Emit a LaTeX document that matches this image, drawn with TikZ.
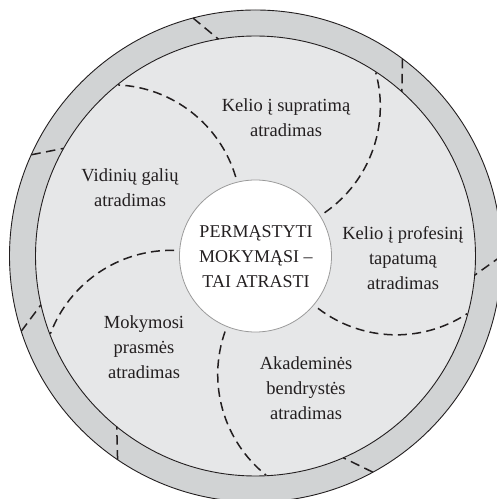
\documentclass[tikz,border=0pt]{standalone}
\usepackage{fontspec}
\setmainfont{Liberation Serif}
\usetikzlibrary{calc}
\definecolor{ringgray}{HTML}{D1D3D4}
\definecolor{fieldgray}{HTML}{E6E7E8}
\definecolor{hubline}{HTML}{9A9A9A}
\definecolor{ink}{HTML}{231F20}
\begin{document}
\begin{tikzpicture}[x=1pt,y=1pt,
  lbl/.style={align=center, font=\fontsize{18.5}{25}\selectfont, text=ink, inner sep=0pt},
  hublbl/.style={align=center, font=\fontsize{18}{25}\selectfont, text=ink, inner sep=0pt},
  curve/.style={line width=1.5pt, dash pattern=on 9pt off 5.3pt, draw=ink},
  ringdash/.style={line width=1.5pt, dash pattern=on 9.5pt off 5.5pt, draw=ink},
  rim/.style={draw=ink, line width=0.9pt}]
\useasboundingbox (0,0) rectangle (497,499);
\clip (0,0) rectangle (497,499);
\coordinate (C) at (255.5,243);
\draw[rim, fill=ringgray] (C) circle[radius=246pt];
\draw[rim, fill=fieldgray] (C) circle[radius=220pt];
% dashed segments crossing the outer ring
\foreach \p [count=\i] in {99.7,48.3,-5,-66.5,230.9,192.8,150.7} {
  \coordinate (ri\i) at ($(C)+(\p:220pt)$);
  \coordinate (ro\i) at ($(C)+(\p+5:246pt)$);
  \draw[ringdash] (ro\i) -- (ri\i);
}
% five dividing arcs
\foreach \k in {0,...,4} {
  \pgfmathsetmacro\a{-72*\k}
  \coordinate (cs\k) at ($(C)+(163.6+\a:149.5pt)+(16.6+\a:129pt)$);
  \draw[curve] (cs\k) arc[start angle={16.6+\a}, end angle={87.3+\a}, radius=129pt];
}
\node[circle, draw=hubline, fill=white, line width=0.8pt, minimum size=152pt, inner sep=0pt] (hub) at (C) {};
\node[hublbl] (hubtext) at (256,242) {PERMĄSTYTI\\MOKYMĄSI –\\TAI ATRASTI};
\node[lbl] (supr) at (286,381.5) {Kelio į supratimą\\atradimas};
\node[lbl] (vid) at (130,311.5) {Vidinių galių\\atradimas};
\node[lbl] (prof) at (403,241) {Kelio į profesinį\\tapatumą\\atradimas};
\node[lbl] (moky) at (144,152) {Mokymosi\\prasmės\\atradimas};
\node[lbl] (akad) at (306,111) {Akademinės\\bendrystės\\atradimas};
\end{tikzpicture}
\end{document}
